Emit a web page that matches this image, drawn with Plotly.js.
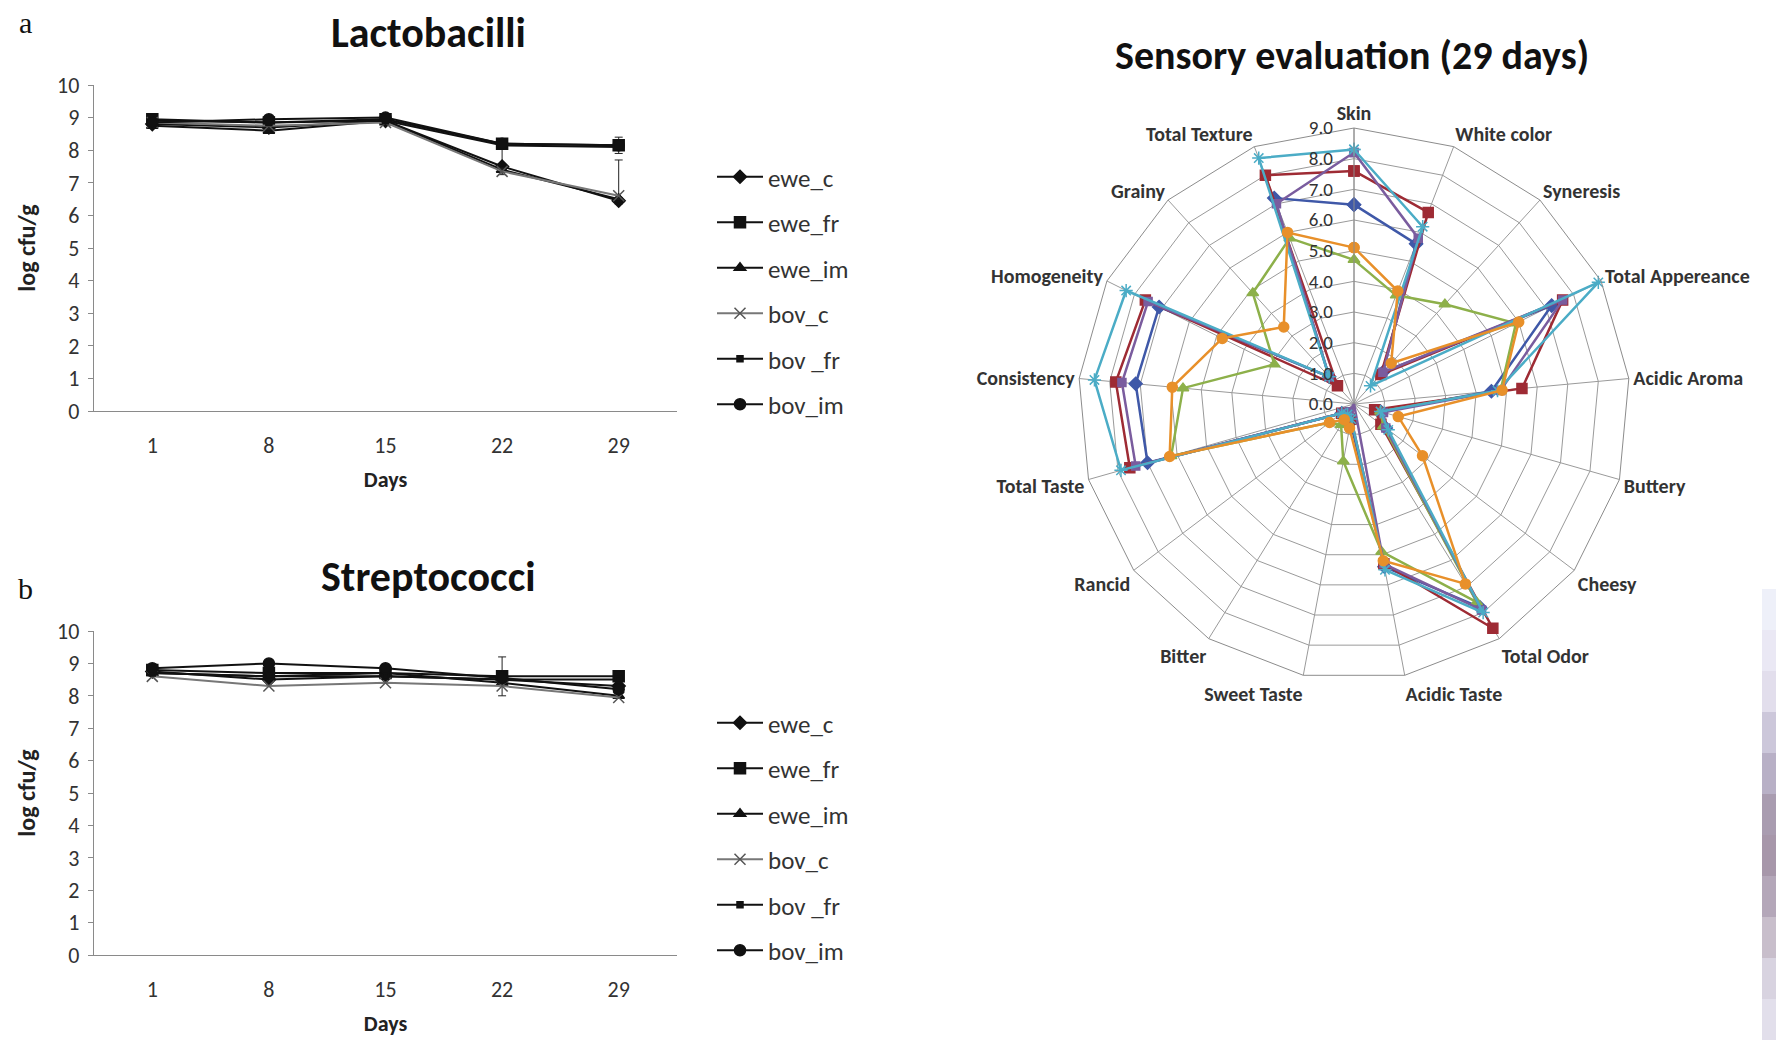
<!DOCTYPE html>
<html><head><meta charset="utf-8">
<script src="https://cdn.plot.ly/plotly-3.0.1.min.js"></script>
<style>html,body{margin:0;padding:0;background:#fff}#chart{width:1776px;height:1040px}</style>
</head><body><div id="chart"></div>
<script>
// ---------- data: growth curves ----------
const days = ['1', '8', '15', '22', '29'];
const seriesNames = ['ewe_c', 'ewe_fr', 'ewe_im', 'bov_c', 'bov _fr', 'bov_im'];

const lactoEweC  = [8.80, 8.70, 8.90, 7.50, 6.45];
const lactoEweFr = [8.95, 8.85, 8.95, 8.20, 8.15];
const lactoEweIm = [8.75, 8.60, 8.90, 7.40, 6.50];
const lactoBovC  = [8.85, 8.75, 8.85, 7.35, 6.60];
const lactoBovFr = [8.90, 8.85, 8.90, 8.15, 8.10];
const lactoBovIm = [8.85, 8.95, 9.00, 8.20, 8.15];
const lactoErrEweFr = [0.10, 0.15, 0.05, 0.10, 0.25];
const lactoErrBovCPlus = [0.05, 0.10, 0.05, 0.10, 1.10];
const lactoErrBovCMinus = [0.05, 0.10, 0.05, 0.10, 0.10];
const lactoErrEweCPlus = [0.05, 0.10, 0.05, 0.60, 0.10];

const strepEweC  = [8.75, 8.50, 8.60, 8.50, 8.30];
const strepEweFr = [8.80, 8.70, 8.70, 8.60, 8.60];
const strepEweIm = [8.70, 8.60, 8.70, 8.40, 8.00];
const strepBovC  = [8.60, 8.30, 8.40, 8.30, 7.95];
const strepBovFr = [8.70, 8.60, 8.60, 8.50, 8.50];
const strepBovIm = [8.85, 9.00, 8.85, 8.55, 8.20];
const strepErrEweFr = [0.05, 0.05, 0.05, 0.60, 0.10];

// ---------- data: sensory radar ----------
const sensoryAttributes = ['Skin', 'White color', 'Syneresis', 'Total Appereance', 'Acidic Aroma', 'Buttery',
  'Cheesy', 'Total Odor', 'Acidic Taste', 'Sweet Taste', 'Bitter', 'Rancid', 'Total Taste', 'Consistency',
  'Homogeneity', 'Grainy', 'Total Texture'];
const sensEweC  = [6.5, 5.6, 1.4, 7.2, 4.5, 0.9, 1.3, 7.8, 5.4, 0.6, 0.4, 0.5, 7.0, 7.15, 7.1, 1.2, 7.2];
const sensEweFr = [7.6, 6.7, 1.3, 7.6, 5.5, 0.7, 1.1, 8.6, 5.3, 0.5, 0.4, 0.5, 7.6, 7.8, 7.6, 0.8, 8.0];
const sensEweIm = [4.7, 3.8, 4.4, 5.9, 4.8, 0.9, 1.2, 7.6, 4.9, 1.9, 0.8, 1.0, 6.2, 5.6, 2.9, 4.9, 5.8];
const sensBovC  = [8.2, 5.8, 1.4, 7.6, 4.8, 1.0, 1.3, 7.9, 5.3, 0.0, 0.3, 0.5, 7.4, 7.6, 7.5, 1.2, 7.0];
const sensBovFr = [8.3, 6.2, 0.8, 8.9, 4.7, 0.9, 1.4, 8.0, 5.5, 0.5, 0.4, 0.5, 7.9, 8.5, 8.3, 1.2, 8.6];
const sensBovIm = [5.1, 3.95, 1.8, 6.0, 4.85, 1.5, 2.8, 6.9, 5.2, 0.8, 0.6, 1.0, 6.25, 5.95, 4.8, 3.4, 6.0];

// ---------- styles ----------
const sansFont = "Carlito, 'Liberation Sans Narrow', Lato, sans-serif";
const lineStyles = [
  {color: '#111', width: 2, sym: 'diamond', size: 10, mcolor: '#111'},
  {color: '#111', width: 2, sym: 'square', size: 11, mcolor: '#111'},
  {color: '#111', width: 2, sym: 'triangle-up', size: 10, mcolor: '#111'},
  {color: '#777', width: 2, sym: 'x-thin-open', size: 11, mcolor: '#555'},
  {color: '#111', width: 2, sym: 'square', size: 6, mcolor: '#111'},
  {color: '#111', width: 2, sym: 'circle', size: 11, mcolor: '#111'}
];

function growthTrace(i, y, xa, ya, leg, err) {
  const s = lineStyles[i];
  const t = {
    type: 'scatter', mode: 'lines+markers', x: days, y: y, xaxis: xa, yaxis: ya,
    name: seriesNames[i], legend: leg, legendgroup: leg + i,
    line: {color: s.color, width: s.width},
    marker: {symbol: s.sym, size: s.size, color: s.mcolor, line: {color: s.mcolor, width: 1.5}}
  };
  if (err) {
    t.error_y = Object.assign({type: 'data', color: '#222', thickness: 1, width: 4, visible: true}, err);
  }
  return t;
}

const traces = [
  growthTrace(0, lactoEweC, 'x', 'y', 'legend', {symmetric: false, array: lactoErrEweCPlus, arrayminus: lactoErrBovCMinus}),
  growthTrace(1, lactoEweFr, 'x', 'y', 'legend', {array: lactoErrEweFr}),
  growthTrace(2, lactoEweIm, 'x', 'y', 'legend'),
  growthTrace(3, lactoBovC, 'x', 'y', 'legend', {symmetric: false, array: lactoErrBovCPlus, arrayminus: lactoErrBovCMinus}),
  growthTrace(4, lactoBovFr, 'x', 'y', 'legend'),
  growthTrace(5, lactoBovIm, 'x', 'y', 'legend'),
  growthTrace(0, strepEweC, 'x2', 'y2', 'legend2'),
  growthTrace(1, strepEweFr, 'x2', 'y2', 'legend2', {array: strepErrEweFr}),
  growthTrace(2, strepEweIm, 'x2', 'y2', 'legend2'),
  growthTrace(3, strepBovC, 'x2', 'y2', 'legend2'),
  growthTrace(4, strepBovFr, 'x2', 'y2', 'legend2'),
  growthTrace(5, strepBovIm, 'x2', 'y2', 'legend2')
];

const radarStyles = [
  {color: '#3F58A8', sym: 'diamond', size: 10},
  {color: '#9E2B34', sym: 'square', size: 10},
  {color: '#8DB04A', sym: 'triangle-up', size: 10},
  {color: '#7A5C9E', sym: 'square', size: 8},
  {color: '#4BACC6', sym: 'asterisk-open', size: 11},
  {color: '#E8902A', sym: 'circle', size: 10}
];
const radarData = [sensEweC, sensEweFr, sensEweIm, sensBovC, sensBovFr, sensBovIm];
radarData.forEach((vals, i) => {
  const s = radarStyles[i];
  traces.push({
    type: 'scatterpolar', mode: 'lines+markers',
    r: vals.concat([vals[0]]), theta: sensoryAttributes.concat([sensoryAttributes[0]]),
    name: seriesNames[i], showlegend: false,
    line: {color: s.color, width: 2.5},
    marker: {symbol: s.sym, size: s.size, color: s.color, line: {color: s.color, width: 1.5}}
  });
});

// ---------- layout ----------
const W = 1776, H = 1040;
const px = v => v / W, py = v => 1 - v / H;

function xAx(anchor, dom) {
  return {domain: dom, anchor: anchor, type: 'category', range: [-0.5, 4.5],
    showline: true, linecolor: '#8a8a8a', linewidth: 1.2, ticks: '', showgrid: false, zeroline: false,
    ticklabelstandoff: 14,
    tickfont: {family: sansFont, size: 22, color: '#333'},
    title: {text: '<b>Days</b>', font: {family: sansFont, size: 22, color: '#222'}, standoff: 14}};
}
function yAx(anchor, dom) {
  return {domain: dom, anchor: anchor, range: [0, 10], dtick: 1,
    showline: true, linecolor: '#8a8a8a', linewidth: 1.2, ticks: 'outside', ticklen: 5, tickcolor: '#8a8a8a',
    showgrid: false, zeroline: false, ticklabelstandoff: 4,
    tickfont: {family: sansFont, size: 22, color: '#333'},
    title: {text: '<b>log cfu/g</b>', font: {family: sansFont, size: 24, color: '#222'}, standoff: 14}};
}

const legendBase = {
  xanchor: 'left', yanchor: 'top', traceorder: 'grouped', tracegroupgap: 10,
  font: {family: sansFont, size: 25, color: '#333'}, bgcolor: 'rgba(0,0,0,0)', itemwidth: 46
};

const stripColors = ['#EEF0F9', '#EAE8F4', '#E2DEEC', '#CCC7DA', '#B8B0C6', '#A99CB0', '#A797AA', '#B4A7B9',
  '#C8BECB', '#D8D3E0', '#E2DFEB'];
const stripShapes = stripColors.map((c, i) => ({
  type: 'rect', xref: 'paper', yref: 'paper', layer: 'below', line: {width: 0}, fillcolor: c,
  x0: px(1762), x1: 1, y0: py(589 + i * 41), y1: py(589 + (i + 1) * 41)
}));

function ann(text, x, y, size, family) {
  return {text: text, x: px(x), y: py(y), xref: 'paper', yref: 'paper', showarrow: false,
    xanchor: 'center', yanchor: 'middle', font: {family: family || sansFont, size: size, color: '#111'}};
}
const serif = "'Liberation Serif', 'DejaVu Serif', serif";

const layout = {
  width: W, height: H, margin: {l: 0, r: 0, t: 0, b: 0},
  paper_bgcolor: '#fff', plot_bgcolor: '#fff', showlegend: true,
  font: {family: sansFont, color: '#222'},
  xaxis: xAx('y', [px(94), px(677)]),
  yaxis: yAx('x', [py(411), py(85)]),
  xaxis2: xAx('y2', [px(94), px(677)]),
  yaxis2: yAx('x2', [py(955), py(631)]),
  legend: Object.assign({x: px(712), y: py(154)}, legendBase),
  legend2: Object.assign({x: px(712), y: py(700)}, legendBase),
  polar: {
    domain: {x: [px(1354 - 276), px(1354 + 276)], y: [py(404 + 276), py(404 - 276)]},
    gridshape: 'linear', bgcolor: 'rgba(0,0,0,0)',
    angularaxis: {type: 'category', categoryarray: sensoryAttributes, rotation: 90, direction: 'clockwise',
      showline: true, linecolor: '#8c8c8c', linewidth: 1, gridcolor: '#9a9a9a', ticks: '',
      tickfont: {family: sansFont, size: 20, color: '#333', weight: 'bold'}},
    radialaxis: {range: [0, 9], dtick: 1, tickformat: '.1f', angle: 90, tickangle: 90,
      showline: true, linecolor: '#8c8c8c', gridcolor: '#9a9a9a', side: 'counterclockwise',
      ticks: 'outside', ticklen: 14, tickcolor: 'rgba(0,0,0,0)',
      tickfont: {family: sansFont, size: 19, color: '#333'}}
  },
  shapes: stripShapes,
  annotations: [
    ann('a', 25, 22, 30, serif),
    ann('b', 25, 588, 30, serif),
    ann('<b>Lactobacilli</b>', 428, 32, 42),
    ann('<b>Streptococci</b>', 428, 576, 42),
    ann('<b>Sensory evaluation (29 days)</b>', 1352, 55, 40)
  ]
};

Plotly.newPlot('chart', traces, layout, {displayModeBar: false, staticPlot: true});
</script>
</body></html>
